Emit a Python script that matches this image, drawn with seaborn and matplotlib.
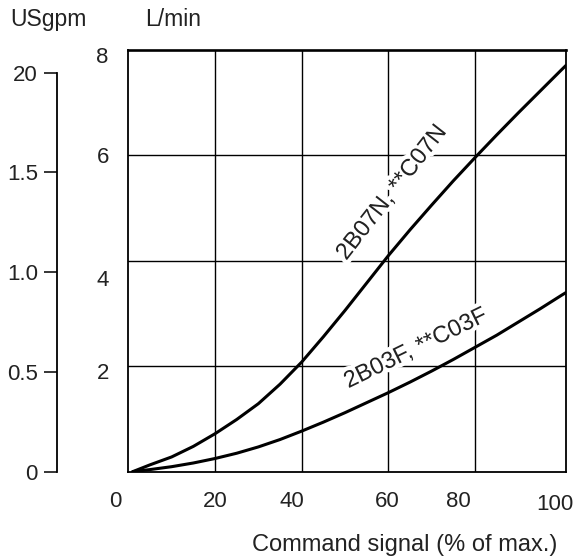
import numpy as np
import pandas as pd
import matplotlib
matplotlib.use("Agg")
import matplotlib.pyplot as plt
import matplotlib.transforms as mtransforms
import matplotlib.patheffects as pe
from matplotlib.ticker import FixedLocator, FixedFormatter
import seaborn as sns

# ---------------- data ----------------
signal = [1, 5, 10, 15, 20, 25, 30, 35, 40, 45, 50, 55, 60, 65, 70, 75, 80, 85, 90, 95, 100, 101]
flow_07N = [0, 0.13, 0.28, 0.48, 0.72, 0.99, 1.29, 1.66, 2.08, 2.56, 3.06, 3.58, 4.10, 4.59,
            5.06, 5.52, 5.96, 6.39, 6.81, 7.22, 7.63, 7.71]
flow_03F = [0, 0.04, 0.095, 0.165, 0.25, 0.35, 0.47, 0.61, 0.77, 0.94, 1.12, 1.31, 1.50, 1.70,
            1.91, 2.13, 2.36, 2.59, 2.84, 3.09, 3.35, 3.40]
series_names = ["2B07N, **C07N", "2B03F, **C03F"]

x_ticks = [0, 20, 40, 60, 80, 100]
x_ticklabels = ["0", "20", "40", "60", "80", "100"]
y_ticks = [2, 4, 6, 8]
y_ticklabels = ["2", "4", "6", "8"]
grid_x = [20, 40, 60, 80]
grid_y = [2, 4, 6]
gpm_ticks = [0, 0.5, 1.0, 1.5, 2.0]
gpm_ticklabels = ["0", "0.5", "1.0", "1.5", "20"]
LPM_PER_GPM = 3.785

df = pd.DataFrame({
    "signal": signal * 2,
    "flow": flow_07N + flow_03F,
    "series": [series_names[0]] * len(signal) + [series_names[1]] * len(signal),
})

# ---------------- style ----------------
sns.set_theme(style="white")
plt.rcParams["font.family"] = ["Liberation Sans", "DejaVu Sans"]
plt.rcParams["text.color"] = "#222222"
plt.rcParams["xtick.color"] = "#222222"
plt.rcParams["ytick.color"] = "#222222"
FS = 16

fig = plt.figure(figsize=(5.78, 5.60), dpi=100)
ax = fig.add_axes([0.222, 0.1577, 0.7567, 0.753])

for gx in grid_x:
    ax.axvline(gx, color="black", lw=1.0, zorder=1)
for gy in grid_y:
    ax.axhline(gy, color="black", lw=1.0, zorder=1)

sns.lineplot(data=df, x="signal", y="flow", hue="series", units="series", estimator=None,
             palette=["black", "black"], linewidth=2.2, legend=False, ax=ax, zorder=3)

ax.set_xlim(0, 100.9)
ax.set_ylim(0, 8)
ax.set_xlabel("")
ax.set_ylabel("")

for side in ["left", "bottom", "right"]:
    ax.spines[side].set_color("black")
    ax.spines[side].set_linewidth(1.3)
ax.spines["top"].set_color("black")
ax.spines["top"].set_linewidth(1.9)

ax.set_xticks(x_ticks)
ax.set_xticklabels(x_ticklabels, fontsize=FS)
ax.set_yticks(y_ticks)
ax.set_yticklabels(y_ticklabels, fontsize=FS)
ax.tick_params(axis="x", length=0, pad=14)
ax.tick_params(axis="y", length=0, pad=14)

# irregular label placement of the original drawing (pixel offsets)
x_label_shift = [(-13, 0), (0, 0), (-10, 0), (-1, 0), (-17, 0), (-7, -3)]
y_label_shift = [(0, -5), (0, -17), (0, 0), (0, -5)]
for lab, (dx, dy) in zip(ax.get_xticklabels(), x_label_shift):
    lab.set_transform(lab.get_transform() + mtransforms.ScaledTranslation(dx / 100, dy / 100, fig.dpi_scale_trans))
for lab, (dx, dy) in zip(ax.get_yticklabels(), y_label_shift):
    lab.set_transform(lab.get_transform() + mtransforms.ScaledTranslation(dx / 100, dy / 100, fig.dpi_scale_trans))

# curve labels (white halo masks the grid behind the glyphs)
halo = [pe.withStroke(linewidth=6, foreground="white")]
ax.text(60.8, 5.29, series_names[0], rotation=52, rotation_mode="anchor", ha="center", va="center",
        fontsize=17, zorder=2, path_effects=halo)
ax.text(66.3, 2.33, series_names[1], rotation=26, rotation_mode="anchor", ha="center", va="center",
        fontsize=17, zorder=2, path_effects=halo)

# secondary USgpm axis
sec = ax.secondary_yaxis(-0.1637, functions=(lambda l: l / LPM_PER_GPM, lambda g: g * LPM_PER_GPM))
sec.yaxis.set_major_locator(FixedLocator(gpm_ticks))
sec.yaxis.set_major_formatter(FixedFormatter(gpm_ticklabels))
sec.spines["left"].set_bounds(0, 2.0)
sec.spines["left"].set_color("black")
sec.spines["left"].set_linewidth(1.3)
sec.tick_params(axis="y", direction="out", length=9.5, width=1.1, color="black", pad=4, labelsize=FS)

fig.text(0.017, 0.966, "USgpm", fontsize=16.5, ha="left", va="center")
fig.text(0.251, 0.966, "L/min", fontsize=16.5, ha="left", va="center")
fig.text(0.9637, 0.027, "Command signal (% of max.)", fontsize=17, ha="right", va="center")

fig.savefig("out.png", dpi=100)
